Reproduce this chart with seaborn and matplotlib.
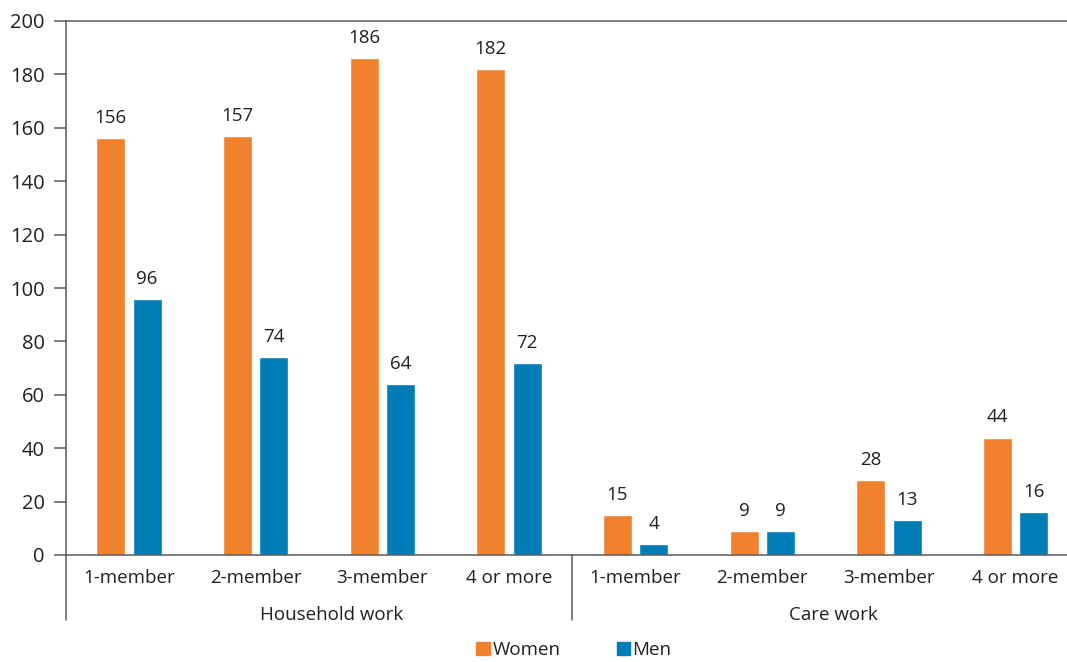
import numpy as np
import pandas as pd
import seaborn as sns
import matplotlib.pyplot as plt
from matplotlib.patches import Patch

# datos
grupos = ['Household work', 'Care work']
tamanos = ['1-member', '2-member', '3-member', '4 or more']
mujeres = [156, 157, 186, 182, 15, 9, 28, 44]
hombres = [96, 74, 64, 72, 4, 9, 13, 16]

NARANJA = '#F2812E'
AZUL = '#007CB7'
TEXTO = '#231F20'
LINEA = '#5A5A5A'

sns.set_theme(style='white')
plt.rcParams['font.family'] = ['Open Sans', 'DejaVu Sans']

claves = [f'{g}|{t}' for g in grupos for t in tamanos]
df = pd.DataFrame({
    'clave': claves * 2,
    'valor': mujeres + hombres,
    'sexo': ['Women'] * len(claves) + ['Men'] * len(claves),
})

fig = plt.figure(figsize=(10.67, 6.62), dpi=100)
ax = fig.add_axes([65.6 / 1067, 107 / 662, (1079 - 65.6) / 1067, 534 / 662])

sns.barplot(data=df, x='clave', y='valor', hue='sexo', order=claves,
            hue_order=['Women', 'Men'], palette=[NARANJA, AZUL],
            width=0.574, gap=0.2, saturation=1, legend=False, ax=ax)

for cont in ax.containers:
    ax.bar_label(cont, padding=8, fontsize=13.5, color=TEXTO)

ax.set_xlim(-0.5, 7.5)
ax.set_ylim(0, 200)
ax.set_yticks(range(0, 201, 20))
ax.set_xticks(range(len(claves)))
ax.set_xticklabels(tamanos * 2)
ax.set_xlabel('')
ax.set_ylabel('')
ax.tick_params(axis='y', direction='out', length=9, width=1.1, color=LINEA,
               labelsize=14.5, labelcolor=TEXTO, pad=6, left=True)
ax.tick_params(axis='x', length=0, labelsize=13.5, labelcolor=TEXTO, pad=10)

for lado in ['top', 'left', 'bottom']:
    ax.spines[lado].set_color(LINEA)
    ax.spines[lado].set_linewidth(1.1)
ax.spines['right'].set_visible(False)

# separadores de grupo debajo del eje
bajo = -65 / 534
for xf in [0, 0.5]:
    ax.plot([xf, xf], [0, bajo], transform=ax.transAxes, color=LINEA,
            lw=1.1, clip_on=False)

ax.text(1.6, -60 / 534, 'Household work', transform=ax.get_xaxis_transform(),
        ha='center', va='center', fontsize=13.5, color=TEXTO)
ax.text(5.56, -60 / 534, 'Care work', transform=ax.get_xaxis_transform(),
        ha='center', va='center', fontsize=13.5, color=TEXTO)

handles = [Patch(color=NARANJA, label='Women'), Patch(color=AZUL, label='Men')]
fig.legend(handles=handles, loc='center', bbox_to_anchor=(0.538, 0.018),
           ncol=2, frameon=False, handlelength=0.7, handleheight=0.7,
           handletextpad=0.15, columnspacing=3.0, fontsize=13.5,
           labelcolor=TEXTO)

fig.savefig('out.png', dpi=100)
